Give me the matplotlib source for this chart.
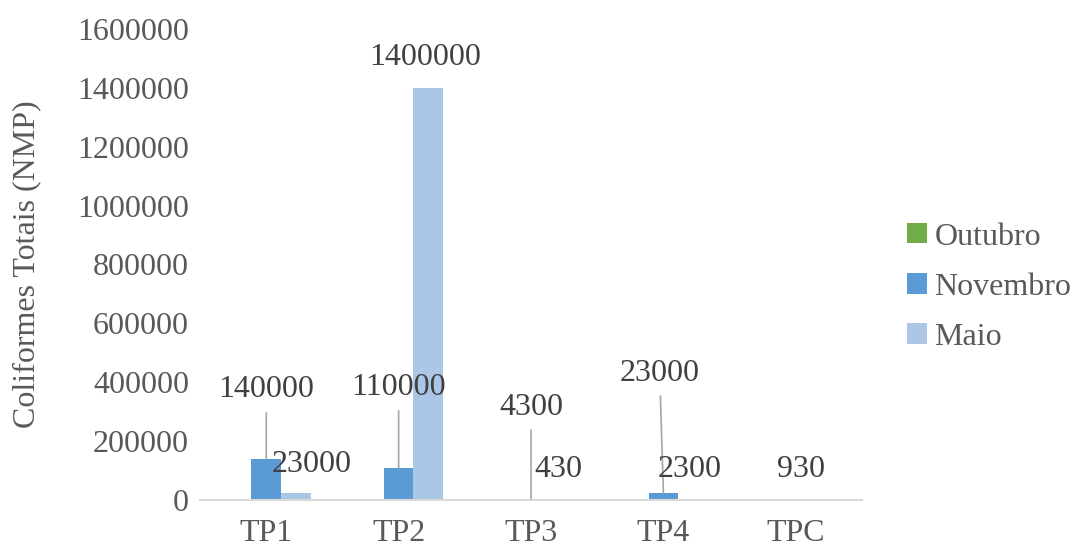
import numpy as np
import matplotlib
matplotlib.use('Agg')
import matplotlib.pyplot as plt

# data
categories = ['TP1', 'TP2', 'TP3', 'TP4', 'TPC']
series_names = ['Outubro', 'Novembro', 'Maio']
outubro = [0, 0, 0, 0, 0]
novembro = [140000, 110000, 4300, 23000, 930]
maio = [23000, 1400000, 430, 2300, 0]
yticks = [0, 200000, 400000, 600000, 800000, 1000000, 1200000, 1400000, 1600000]

colors = ['#70AD47', '#5B9BD5', '#ABC6E7']
TXT = '#595959'
LBL = '#404040'
plt.rcParams['font.family'] = ['Liberation Serif', 'DejaVu Serif']

fig = plt.figure(figsize=(10.79, 5.48), dpi=100)
ax = fig.add_axes([0.1854, 0.0876, 0.6135, 0.8595])

x = np.arange(len(categories))
w = 0.223
all_vals = [outubro, novembro, maio]
for i, (vals, name) in enumerate(zip(all_vals, series_names)):
    ax.bar(x + (i - 1) * w, vals, w, color=colors[i], label=name)

# hand-placed data labels: (series, category, x offset of label, label y, leader line)
label_layout = [
    (1, 0, 0.0, 373700, True),
    (2, 0, 0.117, 118900, False),
    (1, 1, 0.0, 380500, True),
    (2, 1, -0.023, 1504500, False),
    (1, 2, 0.0, 315900, True),
    (2, 2, -0.019, 101900, False),
    (1, 3, -0.025, 431400, True),
    (2, 3, -0.023, 101900, False),
    (1, 4, 0.04, 101900, False),
]
for si, ci, dx, ly, leader in label_layout:
    bx = ci + (si - 1) * w
    val = all_vals[si][ci]
    txt = f'{val}'
    if leader:
        ax.annotate(txt, xy=(bx, val), xytext=(bx + dx, ly), ha='center', va='center',
                    fontsize=23, color=LBL,
                    arrowprops=dict(arrowstyle='-', color='#A6A6A6', lw=1.2,
                                    relpos=(0.5, 0.0), shrinkA=4, shrinkB=0))
    else:
        ax.text(bx + dx, ly, txt, ha='center', va='center', fontsize=23, color=LBL)

ax.set_xlim(-0.5, len(categories) - 0.5)
ax.set_ylim(0, 1600000)
ax.set_xticks(x)
ax.set_xticklabels(categories, fontsize=23, color=TXT)
ax.set_yticks(yticks)
ax.set_yticklabels([str(v) for v in yticks], fontsize=23, color=TXT)
ax.tick_params(axis='y', length=0, pad=8)
ax.tick_params(axis='x', length=0, pad=14)
for s in ['top', 'right', 'left']:
    ax.spines[s].set_visible(False)
ax.spines['bottom'].set_color('#D9D9D9')
ax.spines['bottom'].set_linewidth(1.5)
ax.set_ylabel('Coliformes Totais (NMP)', fontsize=23, color=TXT, labelpad=26)

leg = fig.legend(loc='center left', bbox_to_anchor=(0.841, 0.476), frameon=False,
                 fontsize=23, handlelength=0.6, handleheight=0.6, handletextpad=0.25,
                 labelspacing=0.66, borderaxespad=0, borderpad=0)
for t in leg.get_texts():
    t.set_color(TXT)

fig.savefig('out.png', dpi=100)
